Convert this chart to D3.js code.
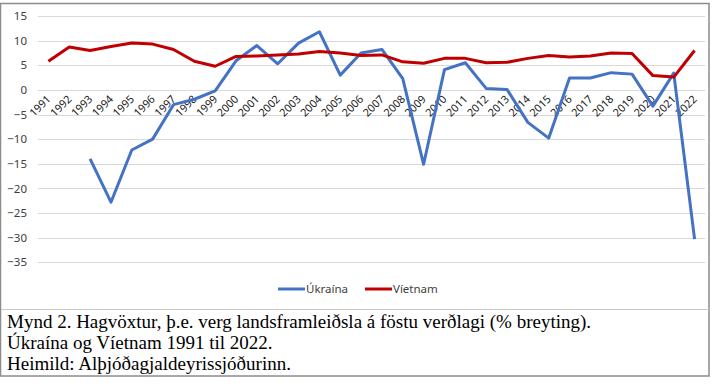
<!DOCTYPE html>
<html>
<head>
<meta charset="utf-8">
<script src="https://cdn.jsdelivr.net/npm/d3@7"></script>
<style>
  body { margin: 0; background: #fff; }
  svg { display: block; }
</style>
</head>
<body>
<div id="chart"></div>
<script>
const years = d3.range(1991, 2023).map(String);

// Úkraína (no data before 1993)
const ukraine = [null, null, -14.0, -22.8, -12.2, -10.0, -3.0, -1.9, -0.2, 5.9,
  9.0, 5.3, 9.5, 11.8, 3.0, 7.5, 8.2, 2.3, -15.1, 4.1,
  5.5, 0.3, 0.1, -6.6, -9.8, 2.4, 2.4, 3.5, 3.2, -3.3,
  3.4, -30.3];

const vietnam = [5.8, 8.7, 8.0, 8.8, 9.5, 9.3, 8.2, 5.8, 4.8, 6.8,
  6.9, 7.1, 7.3, 7.8, 7.5, 7.0, 7.1, 5.7, 5.4, 6.4,
  6.4, 5.5, 5.6, 6.4, 7.0, 6.7, 6.9, 7.5, 7.4, 2.9,
  2.6, 8.0];

const yTicks = [15, 10, 5, 0, -5, -10, -15, -20, -25, -30, -35];

const series = [
  { name: "Úkraína", values: ukraine, color: "#4472C4" },
  { name: "Víetnam", values: vietnam, color: "#C00000" }
];

const caption = [
  "Mynd 2. Hagvöxtur, þ.e. verg landsframleiðsla á föstu verðlagi (% breyting).",
  "Úkraína og Víetnam 1991 til 2022.",
  "Heimild: Alþjóðagjaldeyrissjóðurinn."
];

const width = 713, height = 388;

const svg = d3.select("#chart")
  .append("svg")
  .attr("width", width)
  .attr("height", height);

svg.append("rect")
  .attr("width", width).attr("height", height)
  .attr("fill", "#fff");

// outer frame
svg.append("rect")
  .attr("x", 0.5).attr("y", 3.5)
  .attr("width", 708.5).attr("height", 372.5)
  .attr("fill", "none")
  .attr("stroke", "#8c8c8c")
  .attr("stroke-width", 1.5);

// separator between chart and caption
svg.append("line")
  .attr("x1", 1).attr("x2", 709)
  .attr("y1", 309.5).attr("y2", 309.5)
  .attr("stroke", "#c8c8c8");

const x = d3.scaleBand().domain(years).range([38, 705]);
const y = d3.scaleLinear().domain([-35, 15]).range([262.3, 16]);

// gridlines
svg.append("g")
  .selectAll("line")
  .data(yTicks)
  .join("line")
  .attr("x1", 38).attr("x2", 705)
  .attr("y1", d => Math.round(y(d)) + 0.5)
  .attr("y2", d => Math.round(y(d)) + 0.5)
  .attr("stroke", "#d9d9d9")
  .attr("stroke-width", 1);

// y axis labels
const yAxis = svg.append("g")
  .attr("transform", "translate(27,0)")
  .call(d3.axisLeft(y).tickValues(yTicks).tickSize(0).tickPadding(0).tickFormat(d3.format("d")));
yAxis.select(".domain").remove();
yAxis.selectAll("text")
  .attr("fill", "#404040")
  .attr("font-family", "Noto Sans, sans-serif")
  .attr("font-size", 11.5);

// x axis labels, rotated, sitting under the zero line
svg.append("g")
  .selectAll("text")
  .data(years)
  .join("text")
  .attr("transform", d => `translate(${x(d) + x.bandwidth() / 2 + 3},${y(0) + 10}) rotate(-45)`)
  .attr("text-anchor", "end")
  .attr("fill", "#222")
  .attr("font-family", "Noto Sans, sans-serif")
  .attr("font-size", 10.8)
  .text(d => d);

// lines
const line = d3.line()
  .defined(d => d.v !== null)
  .x(d => x(d.year) + x.bandwidth() / 2)
  .y(d => y(d.v));

svg.append("g")
  .selectAll("path")
  .data(series)
  .join("path")
  .attr("d", s => line(s.values.map((v, i) => ({ year: years[i], v }))))
  .attr("fill", "none")
  .attr("stroke", s => s.color)
  .attr("stroke-width", 3)
  .attr("stroke-linejoin", "round");

// legend
const legendPos = [278, 365];
const legend = svg.append("g")
  .selectAll("g")
  .data(series)
  .join("g")
  .attr("transform", (d, i) => `translate(${legendPos[i]},289)`);
legend.append("line")
  .attr("x1", 0).attr("x2", 27)
  .attr("stroke", d => d.color)
  .attr("stroke-width", 3);
legend.append("text")
  .attr("x", 28).attr("y", 4)
  .attr("fill", "#404040")
  .attr("font-family", "Noto Sans, sans-serif")
  .attr("font-size", 11.5)
  .text(d => d.name);

// caption
svg.append("g")
  .selectAll("text")
  .data(caption)
  .join("text")
  .attr("x", 7)
  .attr("y", (d, i) => 328 + i * 21)
  .attr("fill", "#000")
  .attr("font-family", "Liberation Serif, Times New Roman, serif")
  .attr("font-size", 19)
  .text(d => d);
</script>
</body>
</html>
